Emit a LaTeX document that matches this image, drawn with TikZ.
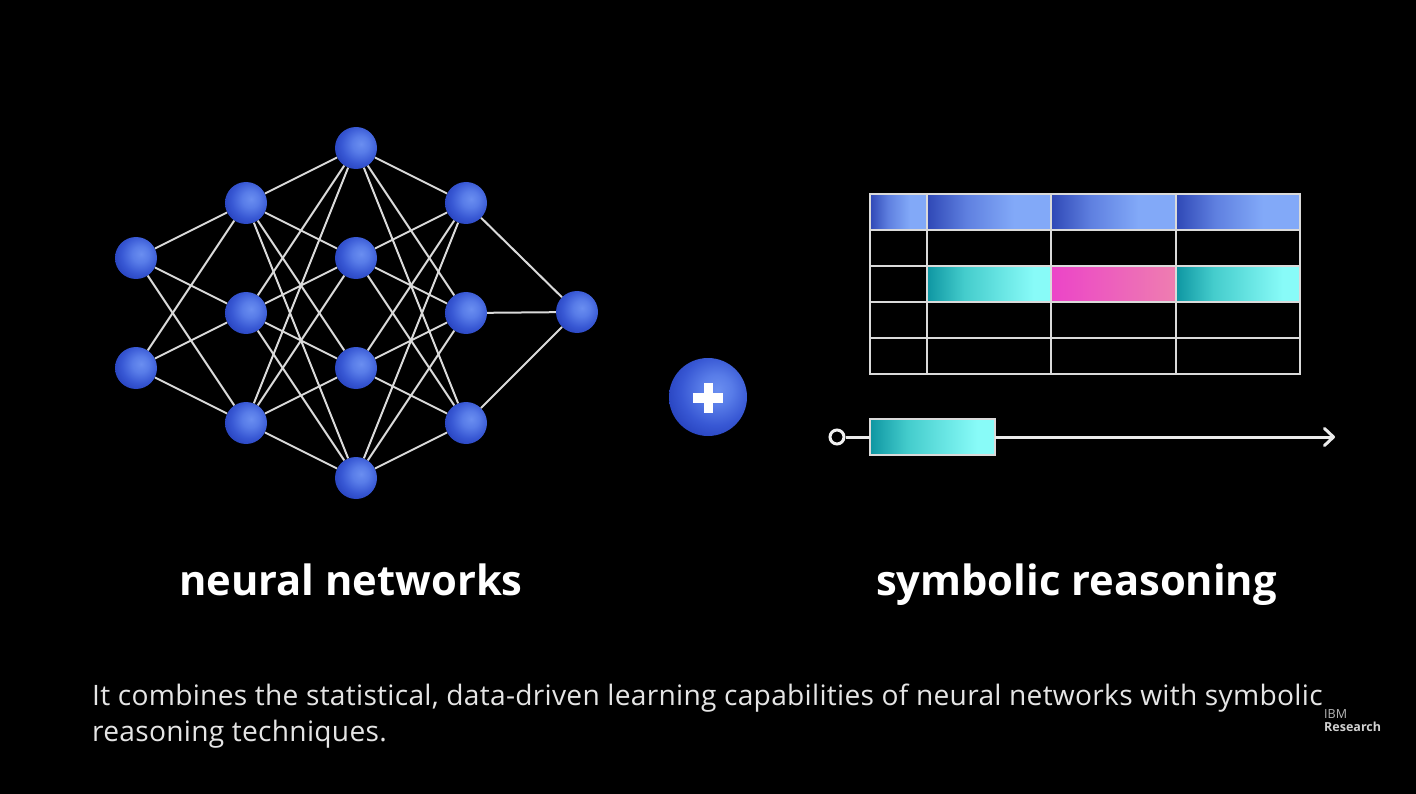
\documentclass[tikz,border=0pt]{standalone}
\usepackage{fontspec}
\setmainfont{Open Sans}
\newfontfamily\bodyfont[LetterSpace=1.0]{Open Sans}
\usetikzlibrary{arrows.meta}
\definecolor{linec}{HTML}{DADADA}
\definecolor{sph1}{HTML}{6A8EF0}
\definecolor{sph2}{HTML}{587CE8}
\definecolor{sph3}{HTML}{3858D4}
\definecolor{sph4}{HTML}{2540BC}
\definecolor{bl1}{HTML}{2F48B6}
\definecolor{bl2}{HTML}{5F80E0}
\definecolor{bl3}{HTML}{82A9F8}
\definecolor{cy1}{HTML}{0E96A2}
\definecolor{cy2}{HTML}{44CCCC}
\definecolor{cy3}{HTML}{88FBF8}
\definecolor{pk1}{HTML}{EC44C8}
\definecolor{pk2}{HTML}{EE7EB0}
\pgfdeclareradialshading{sphere}{\pgfpoint{6bp}{5bp}}{
  color(0bp)=(sph1); color(10bp)=(sph2); color(22bp)=(sph3); color(33bp)=(sph4); color(100bp)=(sph4)}
\pgfdeclarehorizontalshading{bluegrad}{100bp}{
  color(0bp)=(bl1); color(25bp)=(bl1); color(41bp)=(bl2); color(60bp)=(bl3); color(100bp)=(bl3)}
\pgfdeclarehorizontalshading{cyangrad}{100bp}{
  color(0bp)=(cy1); color(25bp)=(cy1); color(40bp)=(cy2); color(68bp)=(cy3); color(100bp)=(cy3)}
\pgfdeclarehorizontalshading{pinkgrad}{100bp}{
  color(0bp)=(pk1); color(25bp)=(pk1); color(75bp)=(pk2); color(100bp)=(pk2)}
\tikzset{
  x=1pt,y=-1pt,
  neuron/.style={circle,inner sep=0pt,minimum size=42pt,shading=sphere},
  synapse/.style={draw=linec,line width=2pt},
  cell/.style={draw=linec,line width=1.5pt,inner sep=0pt,outer sep=0pt,anchor=north west},
  heading/.style={text=white,font=\bfseries\fontsize{41.7}{42}\selectfont,anchor=base,inner sep=0pt},
  body/.style={text=white!90!black,font=\bodyfont\fontsize{28.15}{30}\selectfont,anchor=base west,inner sep=0pt},
}
\begin{document}
\begin{tikzpicture}
\fill[black,use as bounding box] (0,0) rectangle (1416,794);
% neurons
\node[neuron] (a1) at (136,258) {};
\node[neuron] (a2) at (136,368) {};
\node[neuron] (b1) at (246,203) {};
\node[neuron] (b2) at (246,313) {};
\node[neuron] (b3) at (246,423) {};
\node[neuron] (c1) at (356,148) {};
\node[neuron] (c2) at (356,258) {};
\node[neuron] (c3) at (356,368) {};
\node[neuron] (c4) at (356,478) {};
\node[neuron] (d1) at (466,203) {};
\node[neuron] (d2) at (466,313) {};
\node[neuron] (d3) at (466,423) {};
\node[neuron] (e1) at (577,312) {};
\foreach \s in {a1,a2} \foreach \t in {b1,b2,b3} \draw[synapse] (\s) -- (\t);
\foreach \s in {b1,b2,b3} \foreach \t in {c1,c2,c3,c4} \draw[synapse] (\s) -- (\t);
\foreach \s in {c1,c2,c3,c4} \foreach \t in {d1,d2,d3} \draw[synapse] (\s) -- (\t);
\foreach \s in {d1,d2,d3} \draw[synapse] (\s) -- (e1);
% plus
\node[circle,inner sep=0pt,minimum size=78pt,shading=sphere] (plus) at (708,397) {};
\fill[white] (703.5,382.5) rectangle (713,412.5);
\fill[white] (693,393) rectangle (723,402.5);
% table
\foreach \r/\y/\h in {1/194/36,2/230/36,3/266/36,4/302/36,5/338/36}{
  \node[cell,minimum width=57pt,minimum height=\h pt] (t\r a) at (870,\y) {};
  \node[cell,minimum width=124pt,minimum height=\h pt] (t\r b) at (927,\y) {};
  \node[cell,minimum width=125pt,minimum height=\h pt] (t\r c) at (1051,\y) {};
  \node[cell,minimum width=124pt,minimum height=\h pt] (t\r d) at (1176,\y) {};
}
\foreach \n in {t1a,t1b,t1c,t1d} \shade[shading=bluegrad] (\n.north west) rectangle (\n.south east);
\foreach \n in {t3b,t3d} \shade[shading=cyangrad] (\n.north west) rectangle (\n.south east);
\shade[shading=pinkgrad] (t3c.north west) rectangle (t3c.south east);
\foreach \r in {1,2,3,4,5} \foreach \c in {a,b,c,d} \draw[linec,line width=1.5pt] (t\r\c.north west) rectangle (t\r\c.south east);
% timeline
\node[circle,draw=white!95!black,line width=3pt,inner sep=0pt,minimum size=14pt] (start) at (837,437) {};
\node[cell,shading=cyangrad,minimum width=125pt,minimum height=36pt] (span) at (870,419) {};
\coordinate (end) at (1335,437);
\draw[white!92!black,line width=3pt] (start) -- (span);
\draw[white!92!black,line width=3pt,-{Straight Barb[length=9pt,width=17pt,line width=3pt,round]}] (span) -- (end);
% labels
\node[heading] (nn) at (351,595) {neural networks};
\node[heading] (sr) at (1076.5,595) {symbolic reasoning};
\node[body] (l1) at (92,705) {It combines the statistical, data-driven learning capabilities of neural networks with symbolic};
\node[body] (l2) at (92,741) {reasoning techniques.};
\node[anchor=base west,inner sep=0pt,text=white!72!black,font=\fontsize{12.5}{13}\selectfont] (ibm) at (1324,718) {IBM};
\node[anchor=base west,inner sep=0pt,text=white!82!black,font=\bfseries\fontsize{12.5}{13}\selectfont] (res) at (1324,731) {Research};
\end{tikzpicture}
\end{document}
